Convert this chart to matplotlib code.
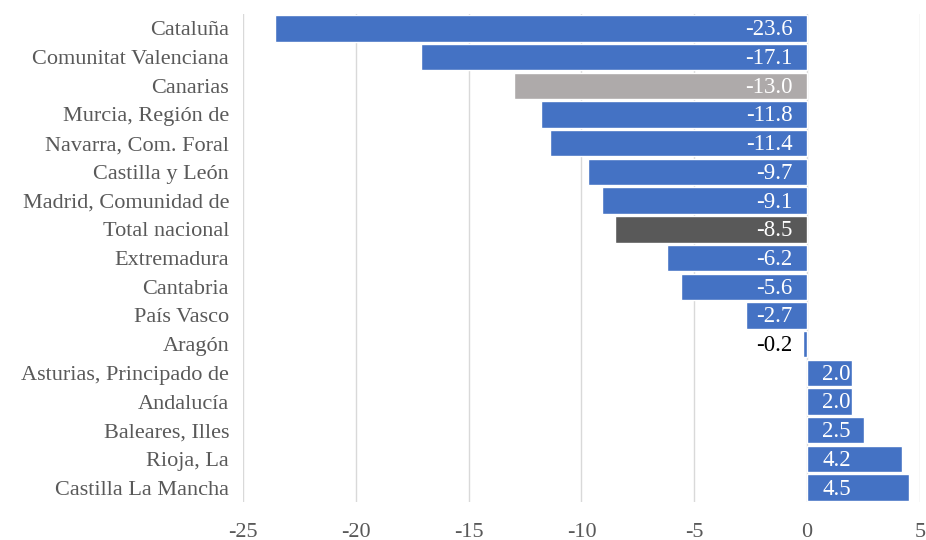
import matplotlib.pyplot as plt

regions = [
    "Cataluña", "Comunitat Valenciana", "Canarias", "Murcia, Región de",
    "Navarra, Com. Foral", "Castilla y León", "Madrid, Comunidad de",
    "Total nacional", "Extremadura", "Cantabria", "País Vasco", "Aragón",
    "Asturias, Principado de", "Andalucía", "Baleares, Illes", "Rioja, La",
    "Castilla La Mancha",
]
values = [-23.6, -17.1, -13.0, -11.8, -11.4, -9.7, -9.1, -8.5, -6.2, -5.6,
          -2.7, -0.2, 2.0, 2.0, 2.5, 4.2, 4.5]

BLUE = "#4472C4"
colors = [BLUE] * len(regions)
colors[regions.index("Canarias")] = "#AEAAAA"
colors[regions.index("Total nacional")] = "#595959"

plt.rcParams['font.family'] = ['Liberation Serif', 'DejaVu Serif']
plt.rcParams['axes.unicode_minus'] = False

fig = plt.figure(figsize=(9.26, 5.4), dpi=100)
ax = fig.add_axes([0.2624, 0.0704, 0.7311, 0.9036])

y = list(range(len(regions)))
ax.barh(y, values, height=0.92, color=colors, edgecolor="white",
        linewidth=1.0, zorder=3)

# labels sit at the base of each bar (near zero)
pad = 0.66
for yi, v in zip(y, values):
    if v < 0:
        ax.text(-pad, yi + 0.05, f"{v:.1f}", ha="right", va="center",
                fontsize=16.5, color="black" if v > -1 else "white", zorder=4)
    else:
        ax.text(pad, yi + 0.05, f"{v:.1f}", ha="left", va="center",
                fontsize=16.5, color="white", zorder=4)

ax.set_xlim(-25, 5)
ax.set_ylim(len(regions) - 0.5, -0.5)
ax.set_xticks(range(-25, 6, 5))
ax.set_yticks(y)
ax.set_yticklabels(regions)
ax.tick_params(axis="both", length=0, labelsize=16, labelcolor="#595959")
ax.tick_params(axis="y", pad=10)
ax.tick_params(axis="x", pad=15)
ax.xaxis.grid(True, color="#D9D9D9", linewidth=1.0, zorder=0)
for s in ax.spines.values():
    s.set_visible(False)

fig.savefig("out.png", dpi=100)
